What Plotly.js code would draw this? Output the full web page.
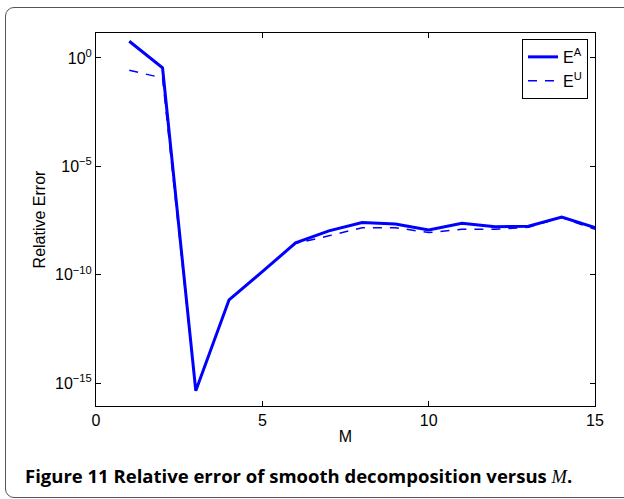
<!DOCTYPE html>
<html>
<head>
<meta charset="utf-8">
<script src="https://cdn.plot.ly/plotly-3.0.1.min.js"></script>
<style>
html,body{margin:0;padding:0;background:#fff;overflow:hidden;width:624px;height:499px;}
#chart{position:absolute;left:0;top:0;width:624px;height:499px;}
#frame{position:absolute;left:5px;top:7px;width:640px;height:489px;border:1.5px solid #555;border-radius:9px;pointer-events:none;z-index:5;}
</style>
</head>
<body>
<div id="chart"></div>
<div id="frame"></div>
<script>
var M = [1,2,3,4,5,6,7,8,9,10,11,12,13,14,15];
var errA = [5.9, 0.35, 4.5e-16, 7.1e-12, 1.4e-10, 3.0e-9, 1.07e-8, 2.6e-8, 2.2e-8, 1.17e-8, 2.4e-8, 1.66e-8, 1.74e-8, 4.6e-8, 1.5e-8];
var errU = [0.27, 0.12, 4.5e-16, 7.1e-12, 1.4e-10, 2.8e-9, 6.3e-9, 1.5e-8, 1.5e-8, 8.9e-9, 1.26e-8, 1.26e-8, 1.58e-8, 4.4e-8, 1.26e-8];
var xTicks = [0,5,10,15];
var yTickVals = [1, 1e-5, 1e-10, 1e-15];
var yTickText = ['10<sup>0</sup>','10<sup>−5</sup>','10<sup>−10</sup>','10<sup>−15</sup>'];
var seriesNames = ['E<sup>A</sup>','E<sup>U</sup>'];
var caption = '<b>Figure 11 Relative error of smooth decomposition versus </b><span style="font-family:\'Liberation Serif\',serif;font-style:italic;font-weight:normal;">M</span><b>.</b>';

var FONT = 'Liberation Sans, Arial, sans-serif';
var traces = [
  {x: M, y: errA, name: seriesNames[0], mode: 'lines', line: {color: '#0000ff', width: 3}},
  {x: M, y: errU, name: seriesNames[1], mode: 'lines', line: {color: '#0000ff', width: 1.5, dash: '9px,8px'}}
];

var axisCommon = {
  showgrid: false, zeroline: false, showline: true, linecolor: '#000', linewidth: 1,
  mirror: 'ticks', ticks: 'inside', ticklen: 5, tickcolor: '#000', tickwidth: 1,
  tickfont: {family: FONT, size: 16, color: '#000'}
};

var layout = {
  width: 624, height: 499,
  margin: {l: 96, r: 29, t: 33, b: 93},
  paper_bgcolor: 'rgba(0,0,0,0)', plot_bgcolor: '#fff',
  showlegend: true,
  legend: {x: 0.986, y: 0.984, xanchor: 'right', yanchor: 'top', bgcolor: '#fff',
    bordercolor: '#000', borderwidth: 1,
    font: {family: FONT, size: 16, color: '#000'},
    tracegroupgap: 0},
  xaxis: Object.assign({}, axisCommon, {
    range: [0, 15], tickvals: xTicks,
    title: {text: 'M', font: {family: FONT, size: 16, color: '#000'}, standoff: 2}
  }),
  yaxis: Object.assign({}, axisCommon, {
    type: 'log', range: [-16.046, 1.152],
    tickvals: yTickVals, ticktext: yTickText,
    title: {text: 'Relative Error', font: {family: FONT, size: 16, color: '#000'}, standoff: 5}
  }),
  annotations: [{
    xref: 'paper', yref: 'paper', x: -0.147, y: -0.1875, xanchor: 'left', yanchor: 'middle',
    showarrow: false, text: caption,
    font: {family: 'Open Sans, sans-serif', size: 18.5, color: '#000'}
  }]
};

Plotly.newPlot('chart', traces, layout, {displayModeBar: false, staticPlot: true});
</script>
</body>
</html>
